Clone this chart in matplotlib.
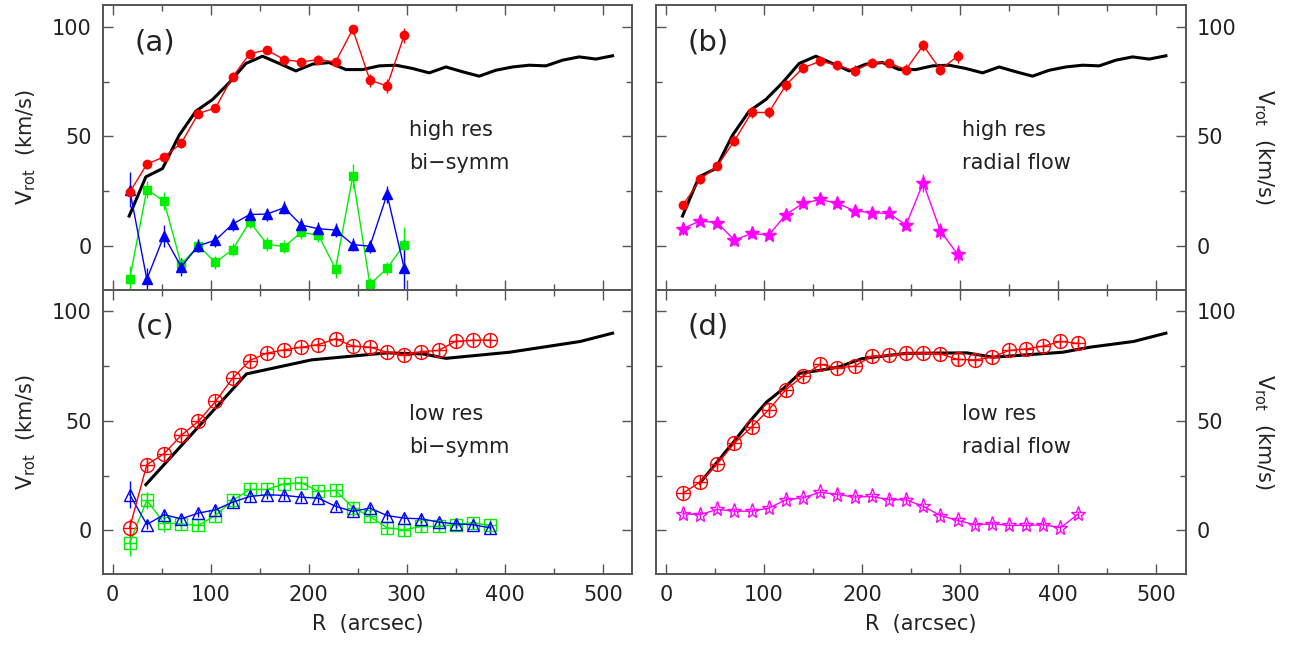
import numpy as np
import matplotlib
matplotlib.use("Agg")
import matplotlib.pyplot as plt
from matplotlib.ticker import MultipleLocator

plt.rcParams['font.family'] = ['DejaVu Sans']

# ---------------- data ----------------
# high-res radii (arcsec)
r_hi = [17.5, 35, 52.5, 70, 87.5, 105, 122.5, 140, 157.5, 175, 192.5, 210, 227.5, 245, 262.5, 280, 297.5]
# model / reference curve for high res panels
r_model_hi = [17, 34, 51, 68, 85, 102, 119, 136, 153, 170, 187, 204, 221, 238, 255, 272, 289, 306,
              323, 340, 357, 374, 391, 408, 425, 442, 459, 476, 493, 510]
v_model_hi = [13.6, 31.5, 35.3, 50.5, 61.5, 66.8, 74.5, 83.3, 86.6, 83.3, 79.9, 83.0, 83.7, 80.5, 80.5,
              82.2, 82.5, 81.0, 79.0, 81.7, 79.5, 77.5, 80.2, 81.7, 82.5, 82.2, 84.8, 86.3, 85.3, 86.8]

# (a) high res bi-symmetric
a_vrot = [24.4, 37.3, 40.6, 46.8, 60.4, 63.0, 77.2, 87.8, 89.4, 85.1, 84.0, 85.1, 84.0, 98.9, 75.7, 73.0, 96.2]
a_vrot_err = [2.5, 2, 2, 2, 2, 2, 2, 2, 2, 2, 2, 2, 2, 2, 3, 3, 3.5]
a_vt = [25.7, -15.3, 4.6, -9.6, 0.0, 2.6, 9.9, 14.3, 14.5, 17.4, 9.5, 7.8, 7.2, 0.6, -0.2, 23.5, -10.3]
a_vt_err = [8, 5, 5, 4, 3, 3, 3, 3, 3, 3, 3, 3, 3, 3, 3, 4, 13]
a_vr = [-15.2, 25.7, 20.4, -8.4, 0.0, -7.6, -1.7, 11.0, 0.8, -0.4, 6.1, 4.9, -10.5, 31.8, -17.6, -10.3, 0.6]
a_vr_err = [6, 4, 4, 3, 3, 3, 3, 3, 3, 3, 3, 3, 4, 5.5, 3, 3, 8]

# (b) high res radial flow
b_vrot = [18.6, 30.3, 36.5, 48.0, 60.9, 60.9, 73.4, 81.3, 84.3, 82.5, 79.9, 83.7, 83.5, 80.5, 91.6, 80.5, 86.6]
b_vrot_err = [2, 2, 2, 2.5, 2.5, 2.5, 2.5, 2.5, 2, 2, 2.5, 2, 2, 2.5, 2.5, 2.5, 3]
b_vrad = [7.9, 11.4, 10.5, 2.6, 5.7, 4.9, 14.3, 19.4, 21.2, 19.4, 16.0, 15.1, 14.8, 9.5, 28.8, 6.8, -3.8]
b_vrad_err = [3, 2, 2, 2, 2, 2, 2, 2, 2, 2, 2, 2, 2, 2.5, 4, 3.5, 4]

# low-res radii (arcsec)
r_lo = [17.5 * k for k in range(1, 25)]

# (c) low res bi-symmetric (22 rings)
c_vrot = [1.2, 30.0, 35.0, 43.4, 49.8, 58.9, 69.5, 77.6, 81.0, 82.5, 83.7, 84.9, 87.5, 84.2, 83.7, 81.4,
          80.2, 81.7, 82.2, 86.4, 86.8, 87.0]
c_vrot_err = [4, 3, 1.5, 1.5, 1.5, 1.5, 1.5, 1.5, 1.5, 1.5, 1.5, 1.5, 1.5, 1.5, 1.5, 1.5, 1.5, 1.5, 1.5, 1.5, 1.5, 1.5]
c_vt = [16.4, 2.7, 7.2, 5.3, 7.9, 9.4, 12.9, 15.5, 16.3, 16.0, 15.2, 14.7, 11.0, 8.7, 10.2, 6.8, 5.6, 5.3,
        3.8, 3.0, 2.6, 1.2]
c_vt_err = [6, 2, 2, 2, 2, 2, 2.5, 2.5, 2, 2, 2, 2, 2, 2, 2, 2, 2, 2, 2, 2, 2, 3]
c_vr = [-5.6, 13.7, 3.5, 3.0, 2.3, 6.8, 13.7, 18.7, 18.7, 21.3, 21.8, 17.8, 18.3, 10.4, 6.4, 1.2, 0.3, 1.8,
        1.8, 2.7, 3.5, 2.3]
c_vr_err = [6, 4, 4, 2, 2, 2, 2.5, 3, 3, 3, 3, 3, 3, 3, 3, 3, 2, 2.5, 2.5, 2, 2, 2]

# model curve for panel (c)
r_model_c = [34, 136.7, 203, 280, 317, 340, 405, 477, 510]
v_model_c = [20.9, 71.5, 77.9, 81.1, 80.6, 78.6, 81.4, 86.3, 90.1]

# (d) low res radial flow (24 rings)
d_vrot = [17.0, 22.1, 30.4, 39.9, 47.2, 55.1, 64.3, 70.5, 75.8, 74.3, 75.0, 79.6, 79.9, 80.9, 81.1, 80.7,
          78.1, 77.9, 79.1, 82.2, 82.9, 84.2, 86.3, 85.5]
d_vrot_err = [2] * 24
d_vrad = [7.6, 7.2, 9.6, 8.8, 8.8, 10.2, 14.0, 14.9, 17.5, 16.4, 15.2, 15.5, 14.0, 14.0, 11.0, 6.8, 4.6,
          2.6, 3.0, 2.3, 2.3, 2.6, 1.2, 7.3]
d_vrad_err = [1.5] * 24

# model curve for panel (d)
r_model_d = [34.7, 52, 70.4, 86, 102.7, 119.7, 136.7, 157.1, 175.8, 199.7, 211.5, 245.6, 307, 333.7, 405, 432.6, 477, 510]
v_model_d = [21.6, 31.0, 41.1, 50.0, 58.6, 64.7, 71.8, 73.1, 74.6, 78.4, 79.1, 80.9, 81.1, 79.1, 81.4, 83.7, 86.3, 90.1]

panel_labels = ['(a)', '(b)', '(c)', '(d)']
panel_texts = [('high res', 'bi\u2212symm'), ('high res', 'radial flow'),
               ('low res', 'bi\u2212symm'), ('low res', 'radial flow')]

# ---------------- figure ----------------
W, H = 1291, 652
fig = plt.figure(figsize=(W / 100, H / 100), dpi=100)

def fx(px):
    return px / W

def fy(py):
    return 1 - py / H

axw = fx(529.5)
axh = 284.6 / H
ax_a = fig.add_axes([fx(102.7), fy(289.6), axw, axh])
ax_b = fig.add_axes([fx(656.0), fy(289.6), axw, axh])
ax_c = fig.add_axes([fx(102.7), fy(574.2), axw, axh])
ax_d = fig.add_axes([fx(656.0), fy(574.2), axw, axh])
axes = [ax_a, ax_b, ax_c, ax_d]

RED = '#ff0000'
BLUE = '#0000ff'
GREEN = '#00ee00'
MAG = '#ff00ff'
SPINE = '#555555'
FS = 15

def series(ax, x, y, e, color, marker, ms, filled=True, cross=False, lw=1.0):
    ax.errorbar(x, y, yerr=e, color=color, lw=lw, elinewidth=1.0, capsize=0,
                marker=marker, ms=ms, mfc=color if filled else 'none', mec=color,
                mew=1.0, zorder=3)
    if cross:
        ax.plot(x, y, ls='none', marker='+', ms=ms, mew=1.0, color=color, zorder=3)

# (a)
ax_a.plot(r_model_hi, v_model_hi, color='black', lw=2.2, zorder=2)
series(ax_a, r_hi, a_vr, a_vr_err, GREEN, 's', 6)
series(ax_a, r_hi, a_vt, a_vt_err, BLUE, '^', 7)
series(ax_a, r_hi, a_vrot, a_vrot_err, RED, 'o', 6)

# (b)
ax_b.plot(r_model_hi, v_model_hi, color='black', lw=2.2, zorder=2)
series(ax_b, r_hi, b_vrot, b_vrot_err, RED, 'o', 6)
series(ax_b, r_hi, b_vrad, b_vrad_err, MAG, '*', 10)

# (c)
ax_c.plot(r_model_c, v_model_c, color='black', lw=2.2, zorder=2)
n_c = len(c_vrot)
series(ax_c, r_lo[:n_c], c_vr, c_vr_err, GREEN, 's', 8, filled=False, cross=True)
series(ax_c, r_lo[:n_c], c_vt, c_vt_err, BLUE, '^', 9, filled=False)
series(ax_c, r_lo[:n_c], c_vrot, c_vrot_err, RED, 'o', 10, filled=False, cross=True)

# (d)
ax_d.plot(r_model_d, v_model_d, color='black', lw=2.2, zorder=2)
series(ax_d, r_lo, d_vrot, d_vrot_err, RED, 'o', 10, filled=False, cross=True)
series(ax_d, r_lo, d_vrad, d_vrad_err, MAG, '*', 11, filled=False)

for i, ax in enumerate(axes):
    ax.set_xlim(-10, 530)
    ax.set_ylim(-20, 110)
    ax.xaxis.set_major_locator(MultipleLocator(100))
    ax.xaxis.set_minor_locator(MultipleLocator(50))
    ax.yaxis.set_major_locator(MultipleLocator(50))
    ax.yaxis.set_minor_locator(MultipleLocator(25))
    ax.tick_params(which='both', direction='in', top=True, bottom=True, left=True, right=True,
                   color=SPINE, labelsize=FS, labelcolor='#222222', width=1.0)
    ax.tick_params(which='major', length=7)
    ax.tick_params(which='minor', length=4)
    for s in ax.spines.values():
        s.set_color(SPINE)
        s.set_linewidth(1.4)
    ax.text(43, 93, panel_labels[i], fontsize=21, color='#222222', ha='center', va='center')
    t1, t2 = panel_texts[i]
    ax.text(302, 53, t1, fontsize=FS, color='#222222', ha='left', va='center')
    ax.text(302, 38, t2, fontsize=FS, color='#222222', ha='left', va='center')

# tick labels
for ax in (ax_a, ax_b):
    ax.tick_params(labelbottom=False)
for ax in (ax_c, ax_d):
    ax.tick_params(labelbottom=True, pad=8)
for ax in (ax_b, ax_d):
    ax.tick_params(labelleft=False, labelright=True, pad=8)
for ax in (ax_a, ax_c):
    ax.tick_params(axis='y', pad=8)

ylab = r'V$_{\rm rot}$  (km/s)'
for ax in (ax_a, ax_c):
    ax.set_ylabel(ylab, fontsize=FS, color='#222222', labelpad=10)
for ax in (ax_b, ax_d):
    ax.yaxis.set_label_position('right')
    ax.set_ylabel(ylab, fontsize=FS, color='#222222', rotation=270, labelpad=28)
for ax in (ax_c, ax_d):
    ax.set_xlabel('R  (arcsec)', fontsize=FS, color='#222222', labelpad=6)

fig.savefig('out.png', dpi=100)
